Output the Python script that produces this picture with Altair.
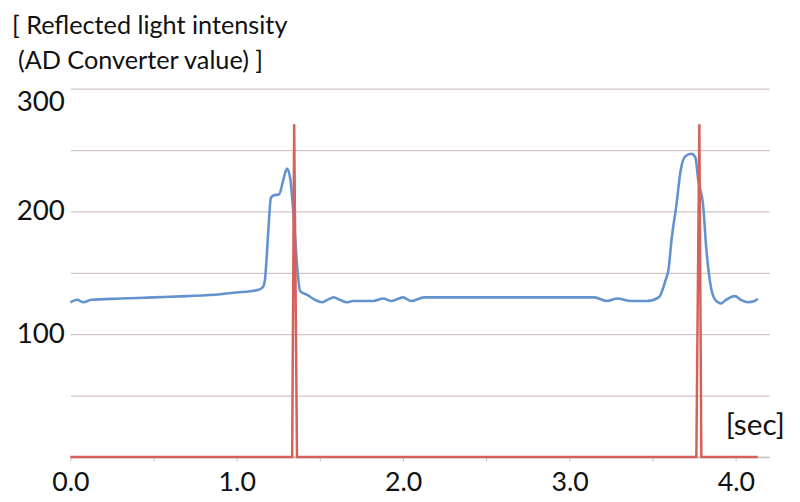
import altair as alt
import pandas as pd

# Blue curve: reflected light intensity (AD converter value) vs time [sec]
blue_t = [0.0, 0.04, 0.08, 0.125, 0.30, 0.50, 0.70, 0.90, 1.00, 1.08, 1.125,
          1.150, 1.163, 1.170, 1.176, 1.190, 1.205, 1.220, 1.255, 1.280, 1.302,
          1.321, 1.345, 1.363, 1.381, 1.423, 1.47, 1.512, 1.545, 1.583, 1.62,
          1.66, 1.70, 1.732, 1.78, 1.82, 1.88, 1.93, 2.00, 2.048, 2.125, 2.5,
          3.0, 3.149, 3.226, 3.286, 3.369, 3.464, 3.536, 3.577, 3.595, 3.613,
          3.643, 3.667, 3.696, 3.732, 3.756, 3.774, 3.804, 3.821, 3.845, 3.875,
          3.911, 3.94, 3.994, 4.03, 4.07, 4.113, 4.131]
blue_v = [126, 128, 126, 128, 129, 130, 131, 132.5, 134, 135, 136,
          137.5, 140, 145, 155, 185, 211, 213, 214, 226, 235,
          227, 190, 155, 135, 132, 128, 126, 128, 130, 128,
          126, 127, 127, 127, 127, 129, 127, 130, 127, 130, 130,
          130, 130, 127, 129, 127, 127, 130, 144, 153, 177,
          206, 233, 245, 247, 244, 225, 203, 171, 142, 128,
          125, 128, 131, 128, 126, 127, 129]

# Red trace: trigger pulses
red_t = [0.0, 1.333, 1.345, 1.362, 3.762, 3.780, 3.792, 4.131]
red_v = [0, 0, 271, 0, 0, 271, 0, 0]

x_ticks = [0.0, 0.5, 1.0, 1.5, 2.0, 2.5, 3.0, 3.5, 4.0]
y_grid = [0, 50, 100, 150, 200, 250, 300]
title_line1 = "[ Reflected light intensity"
title_line2 = "(AD Converter value) ]"
unit_label = "[sec]"

FONT = "Lato"

blue_df = pd.DataFrame({"t": blue_t, "v": blue_v})
red_df = pd.DataFrame({"t": red_t, "v": red_v})

x_scale = alt.Scale(domain=[0, 4.2], nice=False, zero=False)
y_scale = alt.Scale(domain=[0, 300], nice=False)

x_axis = alt.Axis(
    values=x_ticks,
    labelExpr="datum.value % 1 == 0 ? format(datum.value, '.1f') : ''",
    grid=False, domainColor="#c4c4c4", domainWidth=1.5,
    tickColor="#c4c4c4", tickSize=4, labelFontSize=27, labelFont=FONT,
    labelColor="#111111", labelPadding=9, labelFlush=False, title=None,
)
y_axis = alt.Axis(
    values=y_grid,
    labelExpr="(datum.value % 100 == 0 && datum.value > 0) ? datum.label : ''",
    grid=True, gridColor="#d3c5c1", gridWidth=1.3, domain=False, ticks=False,
    labelFontSize=28, labelFont=FONT, labelColor="#111111", labelPadding=6,
    labelFlush=True, title=None,
)

blue = alt.Chart(blue_df).mark_line(
    color="#6393cf", strokeWidth=2.6, interpolate="monotone"
).encode(
    x=alt.X("t:Q", scale=x_scale, axis=x_axis),
    y=alt.Y("v:Q", scale=y_scale, axis=y_axis),
    order="t:Q",
)

red = alt.Chart(red_df).mark_line(
    color="#d6605a", strokeWidth=2.5
).encode(
    x=alt.X("t:Q", scale=x_scale, axis=x_axis),
    y=alt.Y("v:Q", scale=y_scale, axis=y_axis),
    order="t:Q",
)

t1 = alt.Chart(pd.DataFrame({"s": [title_line1]})).mark_text(
    font=FONT, fontSize=25.5, align="left", baseline="alphabetic", color="#111111"
).encode(text="s:N", x=alt.value(-59), y=alt.value(-55))

t2 = alt.Chart(pd.DataFrame({"s": [title_line2]})).mark_text(
    font=FONT, fontSize=25.5, align="left", baseline="alphabetic", color="#111111"
).encode(text="s:N", x=alt.value(-53), y=alt.value(-20))

t3 = alt.Chart(pd.DataFrame({"s": [unit_label]})).mark_text(
    font=FONT, fontSize=30, align="left", baseline="alphabetic", color="#111111"
).encode(text="s:N", x=alt.value(662), y=alt.value(350))

chart = alt.layer(blue, red, t1, t2, t3).properties(
    width=706, height=372,
    padding={"left": 63, "top": 79, "right": 23, "bottom": 40},
    autosize=alt.AutoSizeParams(type="none"),
    background="white",
).configure_view(stroke=None)

chart.save("out.html", embed_options={"renderer": "svg", "actions": False})
